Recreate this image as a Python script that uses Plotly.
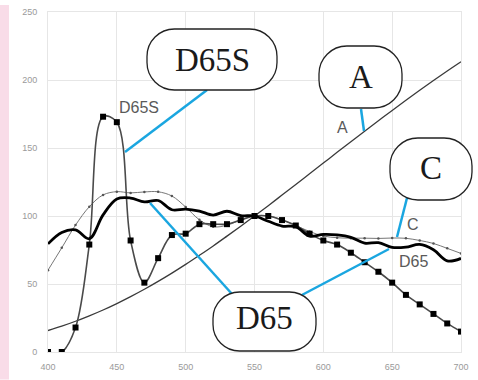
import plotly.graph_objects as go

# ---------------- data ----------------
wavelength = list(range(400, 701, 10))

d65s = [0, 0, 18, 79, 173, 169, 82, 51, 69, 86,
        87, 94, 94, 94, 97, 100, 100, 97, 93, 87,
        82, 79, 73, 66, 59, 51, 42, 35, 28, 21, 15]

illum_a = [15.8, 19.0, 22.6, 26.6, 30.9, 35.6, 40.7, 46.1, 51.9, 58.0,
           64.4, 71.1, 78.0, 85.2, 92.5, 100.0, 107.6, 115.4, 123.2, 131.0,
           138.9, 146.8, 154.6, 162.3, 170.0, 177.6, 185.1, 192.4, 199.6, 206.6, 213.4]

illum_c = [60.2, 76.6, 93.3, 106.8, 115.5, 117.9, 117.0, 117.7, 117.8, 114.7,
           106.6, 97.2, 92.1, 93.2, 97.1, 100.0, 100.1, 97.2, 93.0, 88.6,
           85.3, 84.0, 83.7, 83.7, 83.5, 83.8, 83.6, 82.0, 79.8, 76.2, 72.5]

d65 = [79.5, 87.9, 89.8, 83.3, 100.8, 112.5, 113.2, 110.4, 111.4, 104.6,
       105.1, 103.6, 100.7, 103.5, 100.3, 100.0, 96.1, 92.6, 92.1, 85.2,
       86.5, 86.1, 84.3, 80.0, 80.4, 76.9, 77.1, 79.1, 75.2, 67.0, 68.8]

x_ticks = [400, 450, 500, 550, 600, 650, 700]
y_ticks = [0, 50, 100, 150, 200, 250]

series_labels = ["D65S", "A", "C", "D65"]
bubble_labels = ["D65S", "A", "C", "D65"]

# ---------------- layout geometry (pixels) ----------------
W, H = 478, 380
L, R, T, B = 48, 17, 7, 28
PW, PH = W - L - R, H - T - B


def px_x(px):
    return (px - L) / PW


def px_y(py):
    return (H - B - py) / PH


def off(px, py):
    return px - L, T - py


def bubble_path(x0, y0, x1, y1, rx, ry):
    k = 0.5523
    pts = []

    def P(px, py):
        a, b = off(px, py)
        return f"{a:.2f},{b:.2f}"
    s = f"M{P(x0 + rx, y0)} L{P(x1 - rx, y0)} "
    s += f"C{P(x1 - rx + k * rx, y0)} {P(x1, y0 + ry - k * ry)} {P(x1, y0 + ry)} "
    s += f"L{P(x1, y1 - ry)} "
    s += f"C{P(x1, y1 - ry + k * ry)} {P(x1 - rx + k * rx, y1)} {P(x1 - rx, y1)} "
    s += f"L{P(x0 + rx, y1)} "
    s += f"C{P(x0 + rx - k * rx, y1)} {P(x0, y1 - ry + k * ry)} {P(x0, y1 - ry)} "
    s += f"L{P(x0, y0 + ry)} "
    s += f"C{P(x0, y0 + ry - k * ry)} {P(x0 + rx - k * rx, y0)} {P(x0 + rx, y0)} Z"
    return s


fig = go.Figure()

fig.add_trace(go.Scatter(x=wavelength, y=illum_a, mode="lines",
                         line=dict(color="#3a3a3a", width=1.3, shape="spline"),
                         showlegend=False, hoverinfo="skip"))
fig.add_trace(go.Scatter(x=wavelength, y=illum_c, mode="lines+markers",
                         line=dict(color="#777777", width=1, shape="spline"),
                         marker=dict(color="#555555", size=2.5, symbol="circle"),
                         showlegend=False, hoverinfo="skip"))
fig.add_trace(go.Scatter(x=wavelength, y=d65s, mode="lines+markers",
                         line=dict(color="#4a4a4a", width=1.6, shape="spline", smoothing=1),
                         marker=dict(color="black", size=6, symbol="square"),
                         showlegend=False, hoverinfo="skip"))
fig.add_trace(go.Scatter(x=wavelength, y=d65, mode="lines",
                         line=dict(color="black", width=2.8, shape="spline", smoothing=1),
                         showlegend=False, hoverinfo="skip"))

shapes = []
# pink strip at the left edge
shapes.append(dict(type="rect", xref="paper", yref="paper",
                   x0=px_x(0), x1=px_x(9), y0=px_y(H), y1=px_y(0),
                   fillcolor="#f9dce8", line=dict(width=0), layer="below"))

# leader lines
leader = "#1aa6e0"
leaders = [((125, 147), (207, 85)),
           ((361, 104), (364, 126)),
           ((407, 193), (397, 232)),
           ((150, 198), (232, 289)),
           ((300, 291), (389, 244))]
for (ax_, ay_), (bx_, by_) in leaders:
    a0, b0 = off(ax_, ay_)
    a1, b1 = off(bx_, by_)
    shapes.append(dict(type="line", xref="paper", yref="paper",
                       xsizemode="pixel", ysizemode="pixel", xanchor=0, yanchor=1,
                       x0=a0, y0=b0, x1=a1, y1=b1,
                       line=dict(color=leader, width=2.5), layer="above"))

# callout bubbles
bubbles = [(147, 24, 277, 85), (319, 41, 402, 103), (390, 133, 472, 195), (213, 287, 316, 346)]
for (x0, y0, x1, y1), txt in zip(bubbles, bubble_labels):
    h = y1 - y0
    r = 0.45 * h
    shapes.append(dict(type="path", xref="paper", yref="paper",
                       xsizemode="pixel", ysizemode="pixel", xanchor=0, yanchor=1,
                       path=bubble_path(x0, y0, x1, y1, r, r),
                       fillcolor="white", line=dict(color="#222222", width=1.3),
                       layer="above"))

annotations = []
for (x0, y0, x1, y1), txt in zip(bubbles, bubble_labels):
    annotations.append(dict(xref="paper", yref="paper",
                            x=px_x((x0 + x1) / 2), y=px_y((y0 + y1) / 2 + 1),
                            text=txt, showarrow=False, xanchor="center", yanchor="middle",
                            font=dict(family="Liberation Serif", size=33, color="#1a1a1a")))

label_pos = [(139, 104), (342, 124), (413, 223), (413, 260)]
for (lx, ly), txt in zip(label_pos, series_labels):
    annotations.append(dict(xref="paper", yref="paper", x=px_x(lx), y=px_y(ly),
                            text=txt, showarrow=False, xanchor="center", yanchor="middle",
                            font=dict(family="Liberation Sans", size=16, color="#5a5a5a")))

fig.update_layout(
    width=W, height=H,
    margin=dict(l=L, r=R, t=T, b=B, pad=0),
    paper_bgcolor="white", plot_bgcolor="white",
    shapes=shapes, annotations=annotations,
    xaxis=dict(range=[400, 700], tickvals=x_ticks, showgrid=True, gridcolor="#e6e6e6",
               gridwidth=1, zeroline=False, showline=True, linecolor="#e6e6e6", mirror=True,
               ticks="", ticklabelstandoff=6,
               tickfont=dict(family="Liberation Sans", size=9, color="#9a9a9a")),
    yaxis=dict(range=[0, 250], tickvals=y_ticks, showgrid=True, gridcolor="#e6e6e6",
               gridwidth=1, zeroline=False, showline=True, linecolor="#e6e6e6", mirror=True,
               ticks="", ticklabelstandoff=8,
               tickfont=dict(family="Liberation Sans", size=9, color="#9a9a9a")),
)

fig.write_html("out.html")
